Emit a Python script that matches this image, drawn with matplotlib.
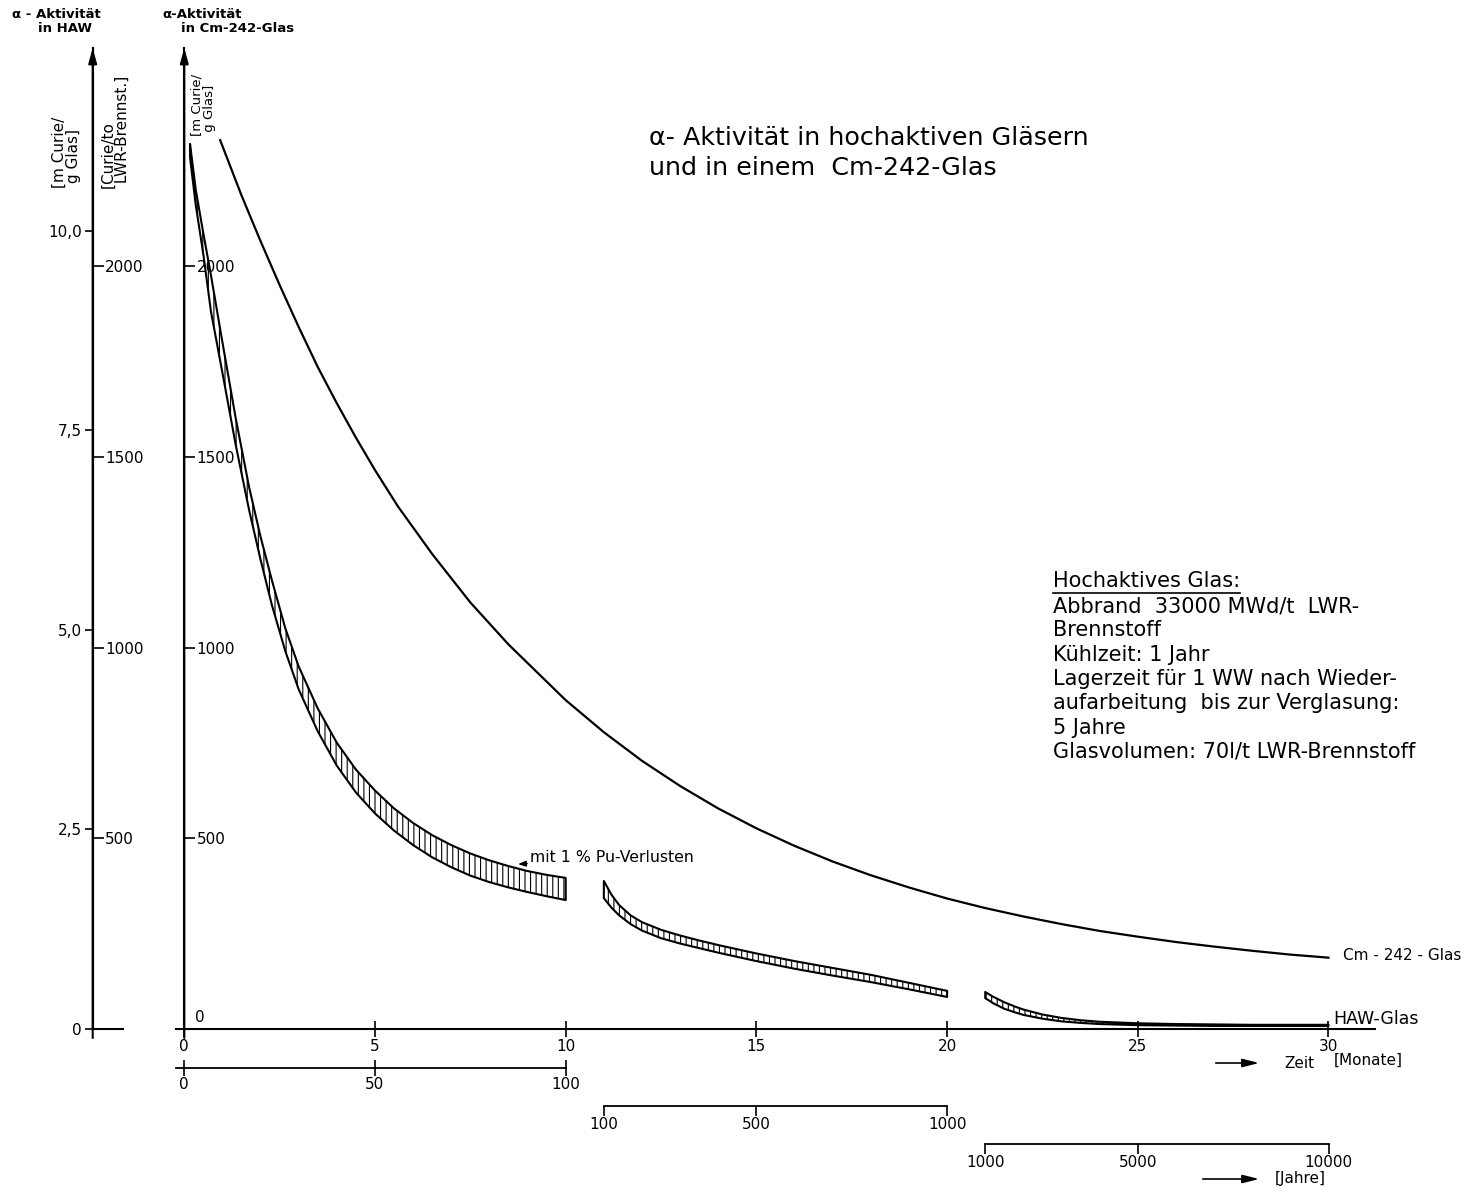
import matplotlib
matplotlib.use("Agg")
import matplotlib.pyplot as plt
from matplotlib.lines import Line2D

# =====================================================
# =========       Data      =========
# =====================================================

# time axis in months, activity in Curie/to LWR-Brennstoff (same scale as Cm axis)
cm_months = [0.94, 1.5, 2, 2.5, 3, 3.5, 4, 4.5, 5, 5.6, 6.5, 7.5, 8.5, 10, 11, 12, 13,
             14, 15, 16, 17, 18, 19, 20, 21, 22, 23, 24, 25, 26, 27, 28, 29, 30]
cm_activity = [2330, 2185, 2065, 1950, 1840, 1735, 1640, 1550, 1465, 1370, 1245, 1118,
               1008, 862, 778, 703, 637, 578, 526, 480, 439, 403, 371, 342, 317, 295,
               275, 257, 242, 228, 216, 205, 195, 187]

# HAW glass band, section 1: 0..100 years
haw1_months = [0.15, 0.3, 0.5, 0.7, 1, 1.35, 1.7, 2, 2.3, 2.65, 3, 3.5, 4, 4.5, 5, 5.5,
               6, 6.5, 7, 7.5, 8, 8.5, 9, 9.5, 10]
haw1_upper = [2320, 2200, 2085, 1975, 1800, 1600, 1420, 1290, 1175, 1050, 950, 840, 750,
              680, 625, 578, 540, 508, 482, 460, 442, 427, 414, 404, 396]
haw1_lower = [2285, 2160, 2030, 1880, 1720, 1530, 1360, 1230, 1110, 990, 890, 780, 690,
              620, 565, 520, 482, 450, 424, 402, 385, 371, 359, 348, 338]

# section 2: 100..1000 years
haw2_months = [11, 11.2, 11.4, 11.7, 12, 12.5, 13, 13.5, 14, 15, 16, 17, 18, 19, 20]
haw2_upper = [388, 352, 325, 298, 280, 260, 245, 232, 220, 198, 178, 160, 142, 121, 100]
haw2_lower = [343, 318, 298, 275, 258, 238, 224, 212, 200, 178, 158, 140, 123, 104, 84]

# section 3: 1000..10000 years
haw3_months = [21, 21.2, 21.5, 21.8, 22, 22.5, 23, 23.5, 24, 25, 26, 27, 28, 30]
haw3_upper = [97, 85, 70, 58, 51, 38, 29, 23, 19, 15, 13, 12, 11, 11]
haw3_lower = [81, 68, 53, 43, 37, 27, 20, 16, 13, 10, 9, 8, 8, 8]

month_ticks = [0, 5, 10, 15, 20, 25, 30]
years1_ticks = [0, 50, 100]
years2_ticks = [100, 500, 1000]
years3_ticks = [1000, 5000, 10000]
curie_ticks = [500, 1000, 1500, 2000]
mcurie_ticks = [0, 2.5, 5, 7.5, 10]
mcurie_labels = ["0", "2,5", "5,0", "7,5", "10,0"]

info_lines = [
    "Abbrand  33000 MWd/t  LWR-",
    "Brennstoff",
    "Kühlzeit: 1 Jahr",
    "Lagerzeit für 1 WW nach Wieder-",
    "aufarbeitung  bis zur Verglasung:",
    "5 Jahre",
    "Glasvolumen: 70l/t LWR-Brennstoff",
]

# =====================================================
# =========       Layout (pixels)             =========
# =====================================================

W, H = 1470, 1192
AX_LEFT, AX_RIGHT, AX_BOTTOM, AX_TOP = 176, 1375, 1029, 48
X0 = 184.3            # pixel of month 0
PX_MONTH = 38.14      # pixels per month
PX_UNIT = 0.3815      # pixels per Curie/to unit
UNITS_PER_MCURIE = 209.2
HAW_AXIS_PX = 92.7

plt.rcParams["font.family"] = ["DejaVu Sans"]
plt.rcParams["hatch.linewidth"] = 0.8


def fxy(px, py):
    return px / W, 1 - py / H


def ax_frac_x(px):
    return (px - AX_LEFT) / (AX_RIGHT - AX_LEFT)


def ax_frac_y(py):
    return (AX_BOTTOM - py) / (AX_BOTTOM - AX_TOP)


fig = plt.figure(figsize=(W / 100, H / 100), dpi=100)
ax = fig.add_axes([AX_LEFT / W, (H - AX_BOTTOM) / H,
                   (AX_RIGHT - AX_LEFT) / W, (AX_BOTTOM - AX_TOP) / H])
ax.set_xlim((AX_LEFT - X0) / PX_MONTH, (AX_RIGHT - X0) / PX_MONTH)
ax.set_ylim(0, (AX_BOTTOM - AX_TOP) / PX_UNIT)
for side in ["top", "right", "left"]:
    ax.spines[side].set_visible(False)
ax.spines["bottom"].set_linewidth(1.5)
ax.set_yticks([])
ax.set_xticks(month_ticks)
ax.tick_params(axis="x", direction="inout", length=12, width=1.2, labelsize=11, pad=1)

# --- curves ---
ax.plot(cm_months, cm_activity, color="black", lw=1.6, clip_on=False)
for m, up, lo in [(haw1_months, haw1_upper, haw1_lower),
                  (haw2_months, haw2_upper, haw2_lower),
                  (haw3_months, haw3_upper, haw3_lower)]:
    ax.fill_between(m, lo, up, facecolor="none", edgecolor="black",
                    hatch="|||", linewidth=1.5)

# --- y axes ---
loc_cm = ax_frac_x(X0)
loc_haw = ax_frac_x(HAW_AXIS_PX)
for loc in (loc_cm, loc_haw):
    ax.annotate("", xy=(loc, 1.0), xycoords="axes fraction",
                xytext=(loc, ax_frac_y(1038)), textcoords="axes fraction",
                arrowprops=dict(arrowstyle="-|>,head_length=0.9,head_width=0.25",
                                lw=1.5, color="black", shrinkA=0, shrinkB=0))

sec_cm = ax.secondary_yaxis(loc_cm)
sec_cm.set_alignment("right")
sec_cm.set_yticks(curie_ticks)
sec_cm.tick_params(direction="out", length=8, width=1.2, labelsize=11, pad=1)

sec_haw = ax.secondary_yaxis(loc_haw)
sec_haw.set_alignment("right")
sec_haw.set_yticks(curie_ticks)
sec_haw.tick_params(direction="out", length=8, width=1.2, labelsize=11, pad=1)

sec_mc = ax.secondary_yaxis(loc_haw, functions=(lambda u: u / UNITS_PER_MCURIE,
                                                 lambda m: m * UNITS_PER_MCURIE))
sec_mc.set_yticks(mcurie_ticks, labels=mcurie_labels)
sec_mc.tick_params(direction="out", length=6, width=1.2, labelsize=11, pad=2)
for s in (sec_cm, sec_haw, sec_mc):
    for sp in s.spines.values():
        sp.set_linewidth(1.5)

# zero marks next to the two activity axes
ax.hlines(0, (HAW_AXIS_PX - X0) / PX_MONTH, (124 - X0) / PX_MONTH,
          color="black", lw=1.5, clip_on=False)
ax.annotate("0", xy=((HAW_AXIS_PX - X0) / PX_MONTH, 0), xytext=(11, 3),
            textcoords="offset points", ha="left", va="bottom", fontsize=11)
ax.annotate("0", xy=(0, 0), xytext=(8, 3), textcoords="offset points",
            ha="left", va="bottom", fontsize=11)

# --- year axes below ---
year_axes = [
    (1067.7, lambda m: m * 10, lambda y: y / 10, years1_ticks, -2.2, "inout", 12),
    (1105.7, lambda m: 100 + (m - 11) * 100, lambda y: 11 + (y - 100) / 100,
     years2_ticks, 100, "out", 7),
    (1144.0, lambda m: 1000 + (m - 21) * 1000, lambda y: 21 + (y - 1000) / 1000,
     years3_ticks, 1000, "out", 7),
]
for py, fwd, inv, ticks, lo, direction, length in year_axes:
    sx = ax.secondary_xaxis(-(py - AX_BOTTOM) / (AX_BOTTOM - AX_TOP), functions=(fwd, inv))
    sx.set_xticks(ticks)
    sx.spines["bottom"].set_bounds(lo, ticks[-1])
    sx.spines["bottom"].set_linewidth(1.3)
    sx.tick_params(direction=direction, length=length, width=1.2, labelsize=11, pad=1)

# --- texts ---
small_bold = dict(fontsize=9.5, fontweight="bold", ha="left", va="center")
fig.text(*fxy(12, 15), "α - Aktivität", **small_bold)
fig.text(*fxy(38, 28), "in HAW", **small_bold)
fig.text(*fxy(162, 15), "α-Aktivität", **small_bold)
fig.text(*fxy(181, 28), "in Cm-242-Glas", **small_bold)

fig.text(*fxy(66, 188), "[m Curie/\n g Glas]", rotation=90, fontsize=11,
         ha="center", va="bottom", multialignment="left", linespacing=0.95)
fig.text(*fxy(115, 188), "[Curie/to\n LWR-Brennst.]", rotation=90, fontsize=11,
         ha="center", va="bottom", multialignment="left", linespacing=0.95)
fig.text(*fxy(203, 136), "[m Curie/\n g Glas]", rotation=90, fontsize=9.5,
         ha="center", va="bottom", multialignment="left", linespacing=1.0)

fig.text(*fxy(649, 153), "α- Aktivität in hochaktiven Gläsern\nund in einem  Cm-242-Glas",
         fontsize=18.3, ha="left", va="center", linespacing=1.35)

head = fig.text(*fxy(1053, 581), "Hochaktives Glas:", fontsize=15, ha="left", va="center")
for i, line in enumerate(info_lines):
    fig.text(*fxy(1053, 606 + i * 24.3), line, fontsize=15, ha="left", va="center")

fig.text(*fxy(1343, 955), "Cm - 242 - Glas", fontsize=11, ha="left", va="center")
fig.text(*fxy(1333, 1019), "HAW-Glas", fontsize=12.5, ha="left", va="center")

ax.annotate("mit 1 % Pu-Verlusten", xy=(8.75, 432),
            xytext=fxy(530, 858), textcoords="figure fraction",
            fontsize=11.3, ha="left", va="center",
            arrowprops=dict(arrowstyle="-|>,head_length=0.4,head_width=0.15",
                            lw=1.0, color="black", shrinkA=0, shrinkB=0))

arrow_kw = dict(arrowstyle="-|>,head_length=1.0,head_width=0.25", lw=1.2, color="black")
fig.add_artist(plt.Annotation("", xy=fxy(1262, 1063), xytext=fxy(1213, 1063),
                              xycoords="figure fraction", arrowprops=arrow_kw))
fig.text(*fxy(1284, 1063), "Zeit", fontsize=11, ha="left", va="center")
fig.text(*fxy(1334, 1060), "[Monate]", fontsize=11, ha="left", va="center")
fig.add_artist(plt.Annotation("", xy=fxy(1262, 1179), xytext=fxy(1200, 1179),
                              xycoords="figure fraction", arrowprops=arrow_kw))
fig.text(*fxy(1275, 1178), "[Jahre]", fontsize=11, ha="left", va="center")

# underline the info header
fig.canvas.draw()
bb = head.get_window_extent().transformed(fig.transFigure.inverted())
fig.add_artist(Line2D([bb.x0, bb.x1], [bb.y0 - 2 / H, bb.y0 - 2 / H],
                      transform=fig.transFigure, color="black", lw=1.2))

fig.savefig("out.png", dpi=100)
